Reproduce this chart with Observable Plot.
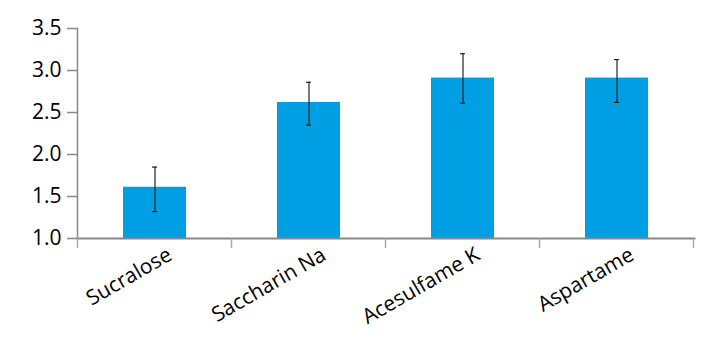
<!DOCTYPE html>
<html>
<head>
<meta charset="utf-8">
<script src="https://cdn.jsdelivr.net/npm/d3@7"></script>
<script src="https://cdn.jsdelivr.net/npm/@observablehq/plot@0.6"></script>
<style>
  html, body { margin: 0; padding: 0; background: #fff; }
  #chart svg { display: block; }
  #chart svg text { font-family: 'Open Sans', sans-serif; font-size: 21px; }
</style>
</head>
<body>
<div id="chart"></div>
<script>
const categories = ["Sucralose", "Saccharin Na", "Acesulfame K", "Aspartame"];
const values = [1.61, 2.62, 2.91, 2.91];
const errLow = [1.32, 2.35, 2.61, 2.62];
const errHigh = [1.85, 2.86, 3.20, 3.13];
const yTicks = [1.0, 1.5, 2.0, 2.5, 3.0, 3.5];

const data = categories.map((c, i) => ({cat: c, v: values[i], lo: errLow[i], hi: errHigh[i]}));

const font = "'Open Sans', sans-serif";
const axisColor = "#888";

const plot = Plot.plot({
  width: 728,
  height: 362,
  marginLeft: 77,
  marginRight: 34,
  marginTop: 28,
  marginBottom: 124,
  style: {fontFamily: font, fontSize: "21px", color: "#000", background: "#fff"},
  x: {domain: categories, paddingInner: 0.59, paddingOuter: 0.295, label: null},
  y: {domain: [1, 3.5], label: null},
  marks: [
    Plot.barY(data, {x: "cat", y1: 1, y2: "v", fill: "#009fe3"}),
    Plot.ruleX(data, {x: "cat", y1: "lo", y2: "hi", stroke: "#222", strokeWidth: 1.2}),
    Plot.tickY(data, {x: "cat", y: "lo", stroke: "#222", strokeWidth: 1.2, insetLeft: 29, insetRight: 29}),
    Plot.tickY(data, {x: "cat", y: "hi", stroke: "#222", strokeWidth: 1.2, insetLeft: 29, insetRight: 29}),
    Plot.axisY({ticks: yTicks, tickFormat: d3.format(".1f"), tickSize: 10, tickPadding: 6, stroke: axisColor, strokeWidth: 1.5, fill: "#000", fontSize: 21, label: null}),
    Plot.axisX({tickSize: 0, tickRotate: -30, textAnchor: "end", dx: 15, dy: 2, fill: "#000", fontSize: 21, label: null}),
    Plot.frame({anchor: "left", stroke: axisColor, strokeWidth: 1.5}),
    Plot.frame({anchor: "bottom", stroke: axisColor, strokeWidth: 2})
  ]
});

// band boundary tick marks on the x axis, positioned with the plot's own x scale
const xs = plot.scale("x");
const ys = plot.scale("y");
const y0 = ys.apply(1);
const bounds = categories.map(c => xs.apply(c) - (xs.step - xs.bandwidth) / 2);
bounds.push(xs.apply(categories[categories.length - 1]) + xs.bandwidth + (xs.step - xs.bandwidth) / 2);
d3.select(plot).append("g")
  .attr("stroke", "#aaa")
  .attr("stroke-width", 1.5)
  .selectAll("line")
  .data(bounds)
  .join("line")
  .attr("x1", d => d).attr("x2", d => d)
  .attr("y1", y0).attr("y2", y0 + 10);

document.getElementById("chart").append(plot);
</script>
</body>
</html>
